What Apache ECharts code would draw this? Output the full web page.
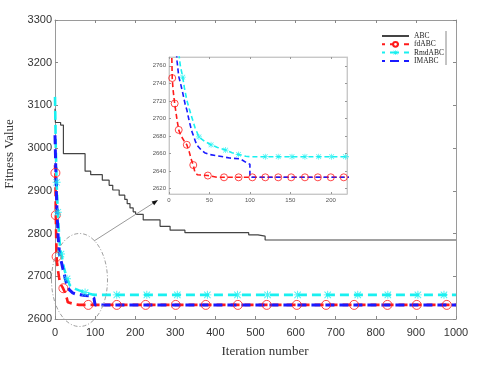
<!DOCTYPE html>
<html><head><meta charset="utf-8">
<script src="https://cdn.jsdelivr.net/npm/echarts@6/dist/echarts.min.js"></script>
<style>html,body{margin:0;padding:0;background:#fff}#c{width:499px;height:366px}</style>
</head><body><div id="c"></div>
<script>
// ---------- data ----------
const seriesNames = ['ABC', 'fdABC', 'RmdABC', 'IMABC'];

// [iteration, fitness] (ABC is a step curve: value holds from this iteration on)
const abc = [[0,3092],[1,3060],[14,3054],[21,2987],[75,2946],[89,2938],[118,2925],[135,2913],[144,2902],[160,2890],[174,2880],[180,2870],[187,2860],[195,2851],[201,2845],[220,2832],[262,2817],[287,2808],[324,2802],[483,2797],[506,2794],[524,2785],[1000,2785]];
const fdabc = [[0,2960],[1,2942],[2,2843],[3,2790],[4,2746],[5,2733],[7,2717],[10,2698],[12,2687],[15,2680],[19,2674],[22,2670],[25,2662],[28,2652],[30,2647],[32,2639],[35,2636],[48,2635],[60,2633],[1000,2633]];
const rmdabc = [[0,3120],[2,3000],[4,2920],[7,2850],[10,2800],[12,2775],[14,2760],[17,2747],[19,2735],[22,2721],[25,2711],[28,2702],[32,2690],[37,2679],[44,2674],[52,2670],[60,2667],[70,2664],[78,2661],[86,2659],[95,2657],[100,2656.5],[1000,2656.5]];
const imabc = [[0,3030],[2,2950],[4,2880],[6,2830],[8,2790],[10,2765],[12,2748],[15,2737],[17,2729],[20,2716],[22,2710],[25,2697],[28,2686],[30,2681],[33,2673],[36,2668],[40,2664],[44,2661],[50,2659],[63,2657],[75,2655],[88,2654],[97,2649],[100,2648],[100,2633],[1000,2633]];

// marker positions (main plot)
const fdabcMarksMain = [[1,2942],[2,2843],[4,2746],[21,2672],[83,2633],[154,2633],[226,2633],[301,2633],[376,2633],[456,2633],[528,2633],[603,2633],[676,2633],[746,2633],[829,2633],[902,2633],[977,2633]];
const rmdabcMarksMain = [[4,2920],[7,2850],[15,2752],[30,2694],[75,2662],[154,2656.5],[229,2656.5],[305,2656.5],[380,2656.5],[455,2656.5],[530,2656.5],[605,2656.5],[680,2656.5],[755,2656.5],[830,2656.5],[905,2656.5],[970,2656.5]];
// marker positions (inset)
const fdabcMarksInset = [[4,2746],[7,2717],[12,2687],[22,2670],[30,2647],[48,2635],[68,2633],[86,2633],[103,2633],[119,2633],[135,2633],[151,2633],[168,2633],[184,2633],[200,2633],[216,2633]];
const rmdabcMarksInset = [[17,2747],[37,2679],[52,2670],[70,2664],[86,2659],[119,2656.5],[135,2656.5],[152,2656.5],[168,2656.5],[185,2656.5],[201,2656.5],[218,2656.5]];

// axis ticks
const xTicksMain = [0,100,200,300,400,500,600,700,800,900,1000];
const yTicksMain = [2600,2700,2800,2900,3000,3100,3200,3300];
const xTicksInset = [0,50,100,150,200];
const yTicksInset = [2620,2640,2660,2680,2700,2720,2740,2760];

// ---------- styles ----------
const RED = '#ff1a1a', CYAN = '#19f0f0', BLUE = '#1a1aff', GRAY = '#444';
const STAR = 'path://M4.4,0H5.6V10H4.4Z M0,4.4H10V5.6H0Z M1.4,0.6L9.4,8.6L8.6,9.4L0.6,1.4Z M8.6,0.6L9.4,1.4L1.4,9.4L0.6,8.6Z';
const sans = 'Liberation Sans, Arial, sans-serif';
const serif = 'Liberation Serif, Times New Roman, serif';

function mainAxis(pos, isX, labels) {
  const ticks = isX ? xTicksMain : yTicksMain;
  return {
    gridIndex: 0, type: 'value', position: pos,
    min: ticks[0], max: ticks[ticks.length - 1], interval: ticks[1] - ticks[0],
    axisLine: { show: true, onZero: false, lineStyle: { color: '#9a9a9a', width: 1 } },
    axisTick: { show: true, inside: true, length: 3, lineStyle: { color: '#888' } },
    axisLabel: { show: labels, color: '#333', fontSize: 11, fontFamily: sans, margin: isX ? 8 : 3,
      formatter: v => String(v) },
    splitLine: { show: false }
  };
}
function insetAxis(pos, isX, labels) {
  const ticks = isX ? xTicksInset : yTicksInset;
  return {
    gridIndex: 1, type: 'value', position: pos,
    min: isX ? 0 : 2614, max: isX ? 220 : 2770,
    axisLine: { show: true, onZero: false, lineStyle: { color: '#c8c8c8', width: 1 } },
    axisTick: { show: true, inside: true, length: 2, customValues: ticks, lineStyle: { color: '#999' } },
    axisLabel: { show: labels, customValues: ticks, color: '#555', fontSize: 6, fontFamily: sans, margin: 3,
      formatter: v => String(v) },
    splitLine: { show: false }
  };
}

const chart = echarts.init(document.getElementById('c'), null, { renderer: 'canvas' });

const series = [
  { name: seriesNames[0], type: 'line', xAxisIndex: 0, yAxisIndex: 0, data: abc, step: 'end',
    symbol: 'none', lineStyle: { color: GRAY, width: 1.2 }, itemStyle: { color: GRAY }, z: 2 },
  { name: seriesNames[1], type: 'line', xAxisIndex: 0, yAxisIndex: 0, data: fdabc,
    symbol: 'emptyCircle', showSymbol: false, lineStyle: { color: RED, width: 2.6, type: [9, 5], dashOffset: 6 },
    itemStyle: { color: RED }, z: 3 },
  { name: seriesNames[2], type: 'line', xAxisIndex: 0, yAxisIndex: 0, data: rmdabc,
    symbol: STAR, showSymbol: false, lineStyle: { color: CYAN, width: 2.6, type: [9, 5] },
    itemStyle: { color: CYAN }, z: 3 },
  { name: seriesNames[3], type: 'line', xAxisIndex: 0, yAxisIndex: 0, data: imabc,
    symbol: 'none', lineStyle: { color: BLUE, width: 3, type: [9, 5] }, itemStyle: { color: BLUE }, z: 4 },
  { name: seriesNames[1], type: 'scatter', xAxisIndex: 0, yAxisIndex: 0, data: fdabcMarksMain,
    symbol: 'circle', symbolSize: 9, itemStyle: { color: 'rgba(0,0,0,0)', borderColor: RED, borderWidth: 1 }, z: 5 },
  { name: seriesNames[2], type: 'scatter', xAxisIndex: 0, yAxisIndex: 0, data: rmdabcMarksMain,
    symbol: STAR, symbolSize: 8, itemStyle: { color: CYAN }, z: 5 },
  // inset
  { name: seriesNames[1], type: 'line', xAxisIndex: 2, yAxisIndex: 2, data: fdabc,
    symbol: 'none', lineStyle: { color: RED, width: 1.6, type: [5, 3] }, z: 6 },
  { name: seriesNames[2], type: 'line', xAxisIndex: 2, yAxisIndex: 2, data: rmdabc,
    symbol: 'none', lineStyle: { color: CYAN, width: 1.6, type: [5, 3] }, z: 6 },
  { name: seriesNames[3], type: 'line', xAxisIndex: 2, yAxisIndex: 2, data: imabc,
    symbol: 'none', lineStyle: { color: BLUE, width: 1.6, type: [5, 3] }, z: 6 },
  { name: seriesNames[1], type: 'scatter', xAxisIndex: 2, yAxisIndex: 2, data: fdabcMarksInset,
    symbol: 'circle', symbolSize: 7, itemStyle: { color: 'rgba(0,0,0,0)', borderColor: RED, borderWidth: 1 }, z: 7 },
  { name: seriesNames[2], type: 'scatter', xAxisIndex: 2, yAxisIndex: 2, data: rmdabcMarksInset,
    symbol: STAR, symbolSize: 6, itemStyle: { color: CYAN }, z: 7 }
];

chart.setOption({
  animation: false,
  backgroundColor: '#fff',
  grid: [
    { left: 55, top: 20, width: 401, height: 299, show: false },
    { left: 169, top: 57, width: 178, height: 137, show: true, backgroundColor: '#fff', borderColor: '#d0d0d0', borderWidth: 1, z: 0 }
  ],
  xAxis: [ mainAxis('bottom', true, true), mainAxis('top', true, false),
           insetAxis('bottom', true, true), insetAxis('top', true, false) ],
  yAxis: [ mainAxis('left', false, true), mainAxis('right', false, false),
           insetAxis('left', false, true), insetAxis('right', false, false) ],
  legend: {
    orient: 'vertical', left: 381, top: 32, itemWidth: 27, itemHeight: 6, itemGap: 0.3,
    padding: 0,
    textStyle: { fontFamily: serif, fontSize: 7.5, color: '#222' },
    data: [
      { name: 'ABC', itemStyle: { opacity: 0 } },
      { name: 'fdABC' },
      { name: 'RmdABC' },
      { name: 'IMABC', itemStyle: { opacity: 0 } }
    ],
    selectedMode: false
  },
  graphic: [
    { type: 'text', x: 10, y: 154, rotation: Math.PI / 2, silent: true,
      style: { text: 'Fitness Value', font: '13px ' + serif, fill: '#333', textAlign: 'center', textVerticalAlign: 'middle' } },
    { type: 'ellipse', shape: { cx: 79.5, cy: 280, rx: 28, ry: 46.5 },
      style: { fill: 'none', stroke: '#a0a0a0', lineWidth: 1, lineDash: [4, 2, 1, 2] }, z: 50, silent: true },
    { type: 'line', shape: { x1: 94, y1: 241, x2: 155, y2: 202 }, style: { stroke: '#9a9a9a', lineWidth: 1 }, z: 50, silent: true },
    { type: 'polygon', shape: { points: [[158, 200], [151.6, 201.4], [154.2, 205.2]] }, style: { fill: '#111' }, z: 50, silent: true },
    { type: 'line', shape: { x1: 446, y1: 31, x2: 446, y2: 65 }, style: { stroke: '#888', lineWidth: 1 }, z: 50, silent: true },
    { type: 'text', x: 265, y: 352, silent: true,
      style: { text: 'Iteration number', font: '13px ' + serif, fill: '#333', textAlign: 'center', textVerticalAlign: 'middle' } }
  ],
  series: series
});
</script>
</body></html>
